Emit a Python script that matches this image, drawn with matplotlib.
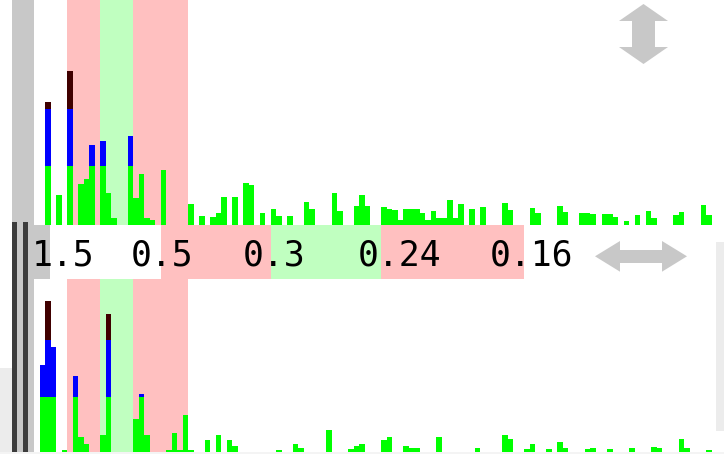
import matplotlib
matplotlib.use("Agg")
import matplotlib.pyplot as plt
from matplotlib.patches import Polygon, Rectangle

W, H = 724, 454
GREEN = "#00ff00"
BLUE = "#0000ff"
DARK = "#400000"
PINK = "#ffc0c0"
MINT = "#c0ffc0"
GREY = "#c8c8c8"

# upper histogram (bin index, green height)
top_bins = [1, 3, 5, 7, 8, 9, 11, 12, 13, 16,
            17, 18, 19, 20, 22, 27, 29, 31, 32, 33,
            35, 37, 38, 40, 42, 43, 45, 48, 49, 53,
            54, 57, 58, 59, 62, 63, 64, 65, 66, 67,
            68, 69, 70, 71, 72, 73, 74, 75, 76, 78,
            80, 84, 85, 89, 90, 94, 95, 98, 99, 100,
            102, 103, 104, 106, 108, 110, 111, 115, 116, 120,
            121]
top_green = [59, 30, 59, 41, 46, 59, 59, 32, 7, 59,
             27, 51, 7, 5, 55, 21, 9, 7.5, 12, 27.5,
             27.5, 41.5, 40, 12, 16, 9, 9, 23, 16, 32,
             14, 19, 30, 19, 18, 16, 15, 5, 16, 16,
             16, 12, 5, 14, 7, 7, 25, 7, 21, 16,
             18, 22, 15, 17, 12, 19, 13, 12, 12, 11,
             11, 11, 8, 4, 10, 14, 7, 10, 13, 20,
             10]
top_stack_bins = [1, 5, 9, 11, 16]
top_blue = [57, 57, 21, 25, 30]
top_dark = [7, 38, 0, 0, 0]

# lower histogram
bot_bins = [0, 1, 2, 4, 6, 7, 8, 11, 12, 17,
            18, 19, 23, 24, 25, 26, 27, 30, 32, 34,
            35, 43, 46, 47, 52, 56, 57, 58, 62, 63,
            66, 67, 68, 72, 79, 84, 85, 88, 89, 92,
            94, 95, 99, 100, 103, 107, 111, 112, 116, 117,
            121]
bot_green = [55, 55, 55, 1.3, 55, 14.6, 8, 17, 55, 33,
             55, 17, 1.3, 19, 1.3, 37, 1.3, 12, 17, 12,
             6, 1.5, 8, 4, 22, 2.3, 6, 8, 12, 15,
             6, 3.3, 4, 15, 3.2, 17, 12.5, 2.5, 7.5, 2.5,
             10, 4, 2.5, 3.5, 2.5, 3.5, 5, 3.2, 12.5, 4,
             1.5]
bot_stack_bins = [0, 1, 2, 6, 12, 18]
bot_blue = [32, 57, 50, 21, 57, 3]
bot_dark = [0, 39, 0, 0, 26, 0]

# shaded bin ranges shared by both histograms
band_edges = [5, 11, 17, 27]
band_colors = [PINK, MINT, PINK]

# ruler strip between the histograms
strip_labels = ["1.5", "0.5", "0.3", "0.24", "0.16"]
strip_edges = [161, 271, 381, 524]

assert len(top_bins) == len(top_green) and len(bot_bins) == len(bot_green)


def px_axes(fig, x0, y0, x1, y1):
    # axes placed in pixel coordinates (y measured from the top)
    ax = fig.add_axes([x0 / W, 1 - y1 / H, (x1 - x0) / W, (y1 - y0) / H])
    ax.set_axis_off()
    return ax


def histogram(ax, bins, green, sbins, blue, dark, ymax):
    for lo, hi, c in zip(band_edges[:-1], band_edges[1:], band_colors):
        ax.axvspan(lo, hi, color=c, lw=0, zorder=0)
    ax.bar(bins, green, width=1, align="edge", color=GREEN, lw=0,
           antialiased=False, zorder=2)
    base = [green[bins.index(b)] for b in sbins]
    ax.bar(sbins, blue, bottom=base, width=1, align="edge", color=BLUE,
           lw=0, antialiased=False, zorder=2)
    base2 = [g + b for g, b in zip(base, blue)]
    ax.bar(sbins, dark, bottom=base2, width=1, align="edge", color=DARK,
           lw=0, antialiased=False, zorder=2)
    ax.set_xlim(-1.0, 124.23)
    ax.set_ylim(0, ymax)


fig = plt.figure(figsize=(W / 100, H / 100), dpi=100)

ax_top = px_axes(fig, 34, 0, 724, 225)
histogram(ax_top, top_bins, top_green, top_stack_bins, top_blue, top_dark, 225)

ax_bot = px_axes(fig, 34, 279.3, 724, 451.5)
histogram(ax_bot, bot_bins, bot_green, bot_stack_bins, bot_blue, bot_dark, 172.2)

ax_mid = px_axes(fig, 34, 225, 724, 279.3)
ax_mid.set_xlim(34, 724)
ax_mid.set_ylim(279.3, 225)
ax_mid.axvspan(34, 50, color=GREY, lw=0)
for lo, hi, c in zip(strip_edges[:-1], strip_edges[1:], band_colors):
    ax_mid.axvspan(lo, hi, color=c, lw=0)
for lab, xc in zip(strip_labels, [63.6, 161.7, 274, 399.4, 531.9]):
    ax_mid.text(xc, 265.5, lab, ha="center", va="baseline", fontsize=25,
                family="DejaVu Sans Mono", color="black")

# frame decorations and the two resize arrows
ov = fig.add_axes([0, 0, 1, 1], zorder=5)
ov.set_axis_off()
ov.patch.set_alpha(0)
ov.set_xlim(0, W)
ov.set_ylim(H, 0)
ov.add_patch(Rectangle((12, 0), 22, 222, color=GREY, lw=0))
ov.add_patch(Rectangle((12, 222), 22, 229.5, color=GREY, lw=0))
ov.add_patch(Rectangle((12, 222), 5, 229.5, color="#3c3c3c", lw=0))
ov.add_patch(Rectangle((22.5, 222), 5, 229.5, color="#3c3c3c", lw=0))
ov.add_patch(Rectangle((0, 368), 12, 86, color="#ececec", lw=0))
ov.add_patch(Rectangle((716, 242), 8, 189, color="#ececec", lw=0))
ov.add_patch(Rectangle((0, 451.5), W, 2.5, color="#f4f4f4", lw=0))

ov.add_patch(Polygon([(643.5, 4), (668, 21), (655, 21), (655, 47), (668, 47),
                      (643.5, 64), (619, 47), (632, 47), (632, 21), (619, 21)],
                     closed=True, color=GREY, lw=0))
ov.add_patch(Polygon([(595, 256.3), (620, 241), (620, 250), (662, 250), (662, 241),
                      (687, 256.3), (662, 271.7), (662, 263), (620, 263), (620, 271.7)],
                     closed=True, color=GREY, lw=0))

fig.savefig("out.png", dpi=100)
